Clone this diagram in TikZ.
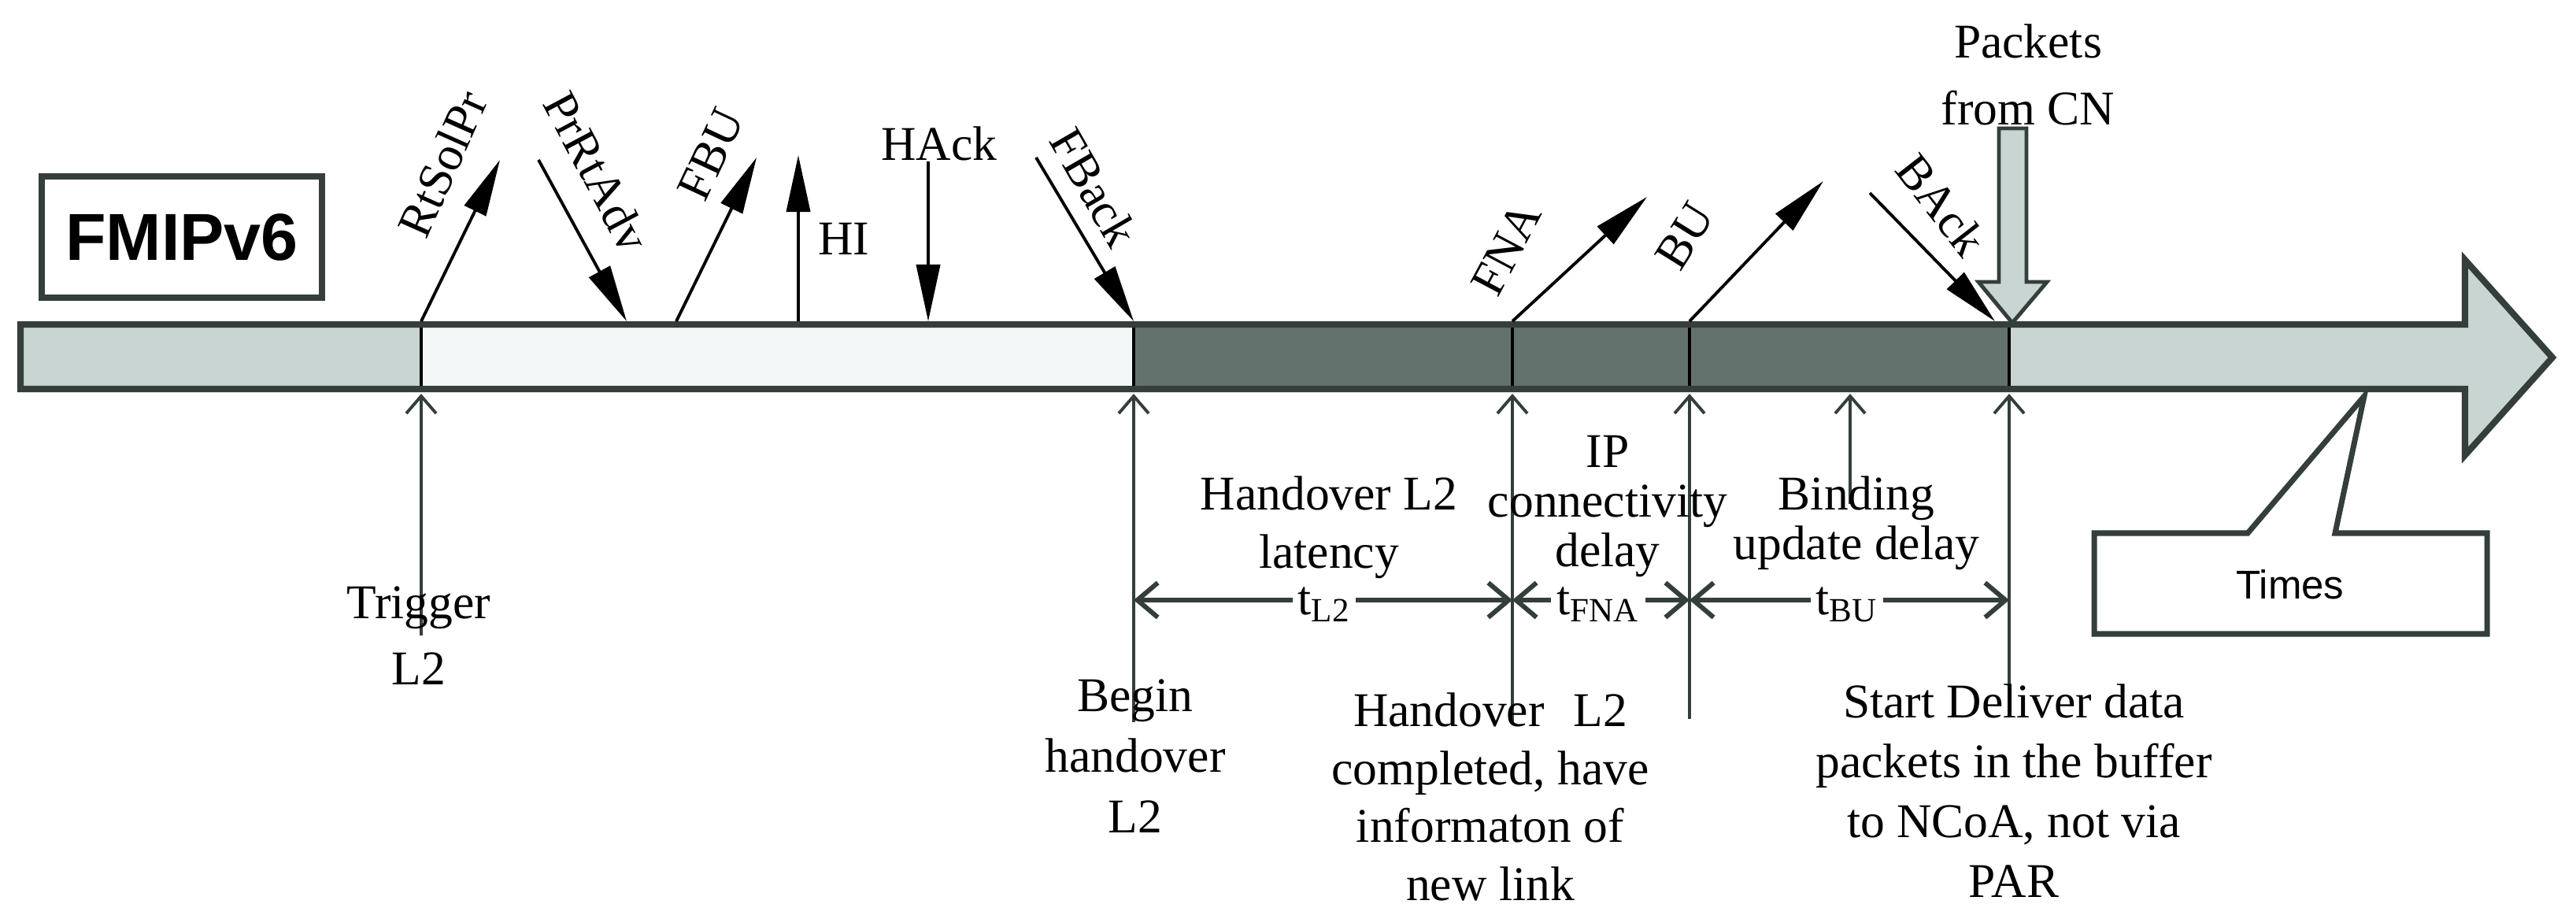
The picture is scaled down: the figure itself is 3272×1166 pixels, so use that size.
\documentclass[tikz,border=0pt]{standalone}
\usepackage{fontspec}
\setmainfont{Liberation Serif}
\newfontfamily\sansf{Liberation Sans}
\usetikzlibrary{arrows.meta}
\definecolor{edge}{RGB}{52,62,58}
\definecolor{lightfill}{RGB}{200,213,210}
\definecolor{whitefill}{RGB}{243,247,247}
\definecolor{darkfill}{RGB}{100,114,109}
\begin{document}
\begin{tikzpicture}[x=0.01cm, y=-0.01cm,
  lbl/.style={font=\fontsize{17.5}{21}\selectfont, inner sep=0pt, align=center},
  msg/.style={draw=black, line width=1.1pt, -{Triangle[length=0.72cm,width=0.3cm]}},
  tick/.style={draw=edge, line width=1.1pt, -{Straight Barb[length=0.22cm,width=0.38cm]}},
  dimline/.style={draw=edge, line width=1.7pt, {Straight Barb[length=0.26cm,width=0.44cm]}-{Straight Barb[length=0.26cm,width=0.44cm]}},
  outl/.style={draw=edge, line width=2.3pt, line join=miter},
  tlab/.style={lbl, fill=white, inner sep=2pt},
]
\useasboundingbox (0,0) rectangle (3272,1166);

% main time bar
\fill[lightfill] (26,412) rectangle (535,494);
\fill[whitefill] (535,412) rectangle (1440,494);
\fill[darkfill] (1440,412) rectangle (2552,494);
\fill[lightfill] (2552,412) -- (3131,412) -- (3131,330) -- (3242,454) -- (3131,578) -- (3131,494) -- (2552,494) -- cycle;
\foreach \xx in {535,1440,1921,2146,2552}{
  \draw[black, line width=1.2pt] (\xx,412) -- (\xx,494);
}
\draw[outl] (26,412) -- (3131,412) -- (3131,330) -- (3242,454) -- (3131,578) -- (3131,494) -- (26,494) -- cycle;

% FMIPv6 box
\node[draw=edge, line width=2.3pt, minimum width=3.55cm, minimum height=1.54cm,
      font=\sansf\bfseries\fontsize{24}{28}\selectfont, inner sep=0pt] (fmip) at (231,301) {FMIPv6};

% message arrows above the bar
\coordinate (rsA) at (535,408);  \coordinate (rsB) at (635,203);
\coordinate (paA) at (684,203);  \coordinate (paB) at (796,408);
\coordinate (fbuA) at (859,408); \coordinate (fbuB) at (961,200);
\coordinate (hiA) at (1014,408); \coordinate (hiB) at (1014,197);
\coordinate (haA) at (1179,205); \coordinate (haB) at (1179,408);
\coordinate (fbkA) at (1316,200); \coordinate (fbkB) at (1440,408);
\coordinate (fnaA) at (1921,408); \coordinate (fnaB) at (2092,250);
\coordinate (buA) at (2146,408); \coordinate (buB) at (2316,230);
\coordinate (bkA) at (2375,245); \coordinate (bkB) at (2534,408);
\draw[msg] (rsA) -- (rsB);
\draw[msg] (paA) -- (paB);
\draw[msg] (fbuA) -- (fbuB);
\draw[msg] (hiA) -- (hiB);
\draw[msg] (haA) -- (haB);
\draw[msg] (fbkA) -- (fbkB);
\draw[msg] (fnaA) -- (fnaB);
\draw[msg] (buA) -- (buB);
\draw[msg] (bkA) -- (bkB);

\node[lbl, rotate=66] (rsL) at (562,208) {RtSolPr};
\node[lbl, rotate=-62] (paL) at (758,218) {PrRtAdv};
\node[lbl, rotate=65] (fbuL) at (903,196) {FBU};
\node[lbl] (hiL) at (1072,303) {HI};
\node[lbl] (haL) at (1193,182) {HAck};
\node[lbl, rotate=-60] (fbkL) at (1390,238) {FBack};
\node[lbl, rotate=62] (fnaL) at (1913,316) {FNA};
\node[lbl, rotate=58] (buL) at (2140,300) {BU};
\node[lbl, rotate=-52] (bkL) at (2466,260) {BAck};

% packets from CN (hollow arrow)
\node[lbl, font=\fontsize{17.5}{24}\selectfont] (pktL) at (2576,95) {Packets\\from CN};
\draw[draw=edge, fill=lightfill, line width=1.4pt, line join=miter]
  (2539,163) -- (2574,163) -- (2574,358) -- (2600,358) -- (2556,410) -- (2513,358) -- (2539,358) -- cycle;

% lines below the bar
\coordinate (trU) at (535,500);  \coordinate (trD) at (535,807);
\coordinate (bhU) at (1440,500); \coordinate (bhD) at (1440,917);
\coordinate (fnU) at (1921,500); \coordinate (fnD) at (1921,917);
\coordinate (bbU) at (2146,500); \coordinate (bbD) at (2146,913);
\coordinate (bdU) at (2350,500); \coordinate (bdD) at (2350,640);
\coordinate (sdU) at (2552,500); \coordinate (sdD) at (2552,910);
\draw[tick] (trD) -- (trU);
\draw[tick] (bhD) -- (bhU);
\draw[tick] (fnD) -- (fnU);
\draw[tick] (bbD) -- (bbU);
\draw[tick] (bdD) -- (bdU);
\draw[tick] (sdD) -- (sdU);

% dimension lines
\coordinate (dA) at (1440,762); \coordinate (dB) at (1921,762);
\coordinate (dC) at (2146,762); \coordinate (dD) at (2552,762);
\draw[dimline] (dA) -- (dB);
\draw[dimline] (dB) -- (dC);
\draw[dimline] (dC) -- (dD);
\node[tlab] (tl2) at (1682,768) {t\textsubscript{L2}};
\node[tlab] (tfna) at (2030,768) {t\textsubscript{FNA}};
\node[tlab] (tbu) at (2346,768) {t\textsubscript{BU}};

% lower labels
\node[lbl, font=\fontsize{17.5}{24}\selectfont] (trigL) at (532,807) {Trigger\\L2};
\node[lbl, font=\fontsize{17.5}{22}\selectfont] (beginL) at (1442,960) {Begin\\handover\\L2};
\node[lbl, font=\fontsize{17.5}{21}\selectfont] (latL) at (1688,670) {Handover L2\\latency};
\node[lbl, font=\fontsize{17.5}{18}\selectfont] (ipL) at (2042,643) {IP\\connectivity\\delay};
\node[lbl, font=\fontsize{17.5}{18}\selectfont] (bindL) at (2358,664) {Binding\\update delay};
\node[lbl, font=\fontsize{17.5}{21}\selectfont] (hoL) at (1893,1012) {Handover\hspace{0.35em} L2\\completed, have\\informaton of\\new link};
\node[lbl, font=\fontsize{17.5}{21.6}\selectfont] (sdL) at (2558,1004) {Start Deliver data\\packets in the buffer\\to NCoA, not via\\PAR};

% Times callout
\draw[draw=edge, line width=2pt, line join=miter, fill=white]
  (2660,677) -- (2855,677) -- (3003,503) -- (2966,677) -- (3159,677) -- (3159,805) -- (2660,805) -- cycle;
\node[font=\sansf\fontsize{14.5}{17}\selectfont, inner sep=0pt] (timesL) at (2909,742) {Times};
\end{tikzpicture}
\end{document}
